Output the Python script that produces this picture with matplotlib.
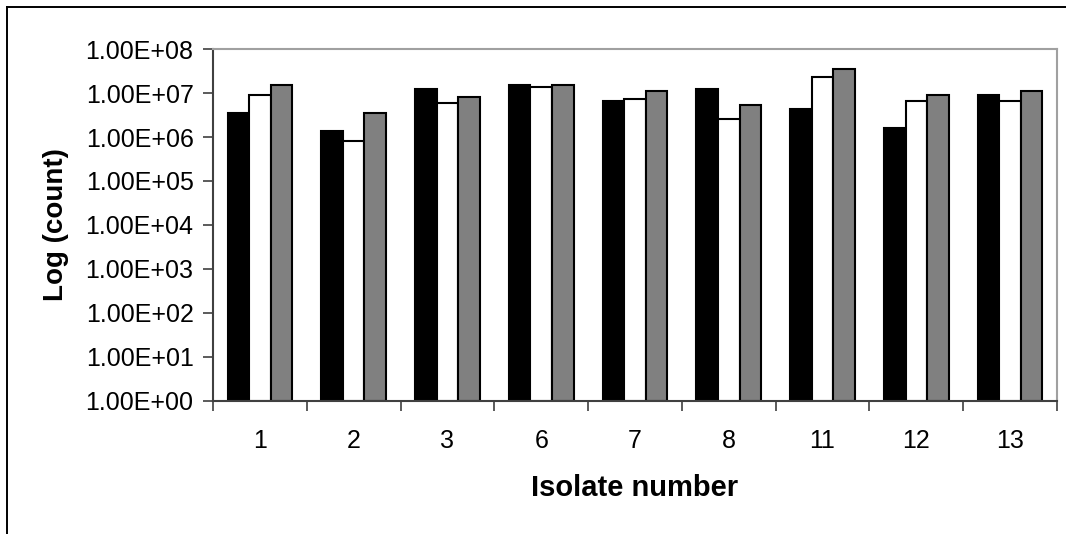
import matplotlib
matplotlib.use("Agg")
import matplotlib.pyplot as plt
import numpy as np
from matplotlib.lines import Line2D
from matplotlib.ticker import FixedLocator, FuncFormatter

plt.rcParams['font.family'] = ['Liberation Sans', 'DejaVu Sans']

# data
isolates = ['1', '2', '3', '6', '7', '8', '11', '12', '13']
black_counts = [3.6e6, 1.4e6, 1.25e7, 1.55e7, 6.7e6, 1.25e7, 4.4e6, 1.6e6, 9.2e6]
white_counts = [9.0e6, 8.1e5, 6.0e6, 1.37e7, 7.3e6, 2.6e6, 2.3e7, 6.6e6, 6.6e6]
gray_counts = [1.5e7, 3.5e6, 8.1e6, 1.5e7, 1.1e7, 5.3e6, 3.5e7, 9.2e6, 1.1e7]
y_ticks = [1e0, 1e1, 1e2, 1e3, 1e4, 1e5, 1e6, 1e7, 1e8]

fig = plt.figure(figsize=(10.66, 5.34), dpi=100)
ax = fig.add_axes([213 / 1066, 133 / 534, 844 / 1066, 352 / 534])

x = np.arange(len(isolates))
w = 0.23
ax.bar(x - w, black_counts, w, bottom=1, color='black', edgecolor='black', linewidth=1.5)
ax.bar(x, white_counts, w, bottom=1, color='white', edgecolor='black', linewidth=1.5)
ax.bar(x + w, gray_counts, w, bottom=1, color='#808080', edgecolor='black', linewidth=1.5)

ax.set_yscale('log')
ax.set_ylim(1, 1e8)
ax.set_xlim(-0.5, len(isolates) - 0.5)

ax.yaxis.set_major_locator(FixedLocator(y_ticks))
ax.yaxis.set_minor_locator(FixedLocator([]))
ax.yaxis.set_major_formatter(FuncFormatter(lambda v, p: f"{v:.2E}"))
ax.tick_params(axis='y', which='major', length=7, width=1.2, pad=7, labelsize=18, color='#404040')

ax.set_xticks(x)
ax.set_xticklabels(isolates)
ax.set_xticks(np.arange(len(isolates) + 1) - 0.5, minor=True)
ax.tick_params(axis='x', which='major', length=0, pad=20, labelsize=18)
ax.tick_params(axis='x', which='minor', length=7, width=1.2, color='#404040')

for s in ['left', 'bottom']:
    ax.spines[s].set_color('#404040')
    ax.spines[s].set_linewidth(1.5)
for s in ['top', 'right']:
    ax.spines[s].set_color('#a0a0a0')
    ax.spines[s].set_linewidth(1.5)

ax.set_xlabel('Isolate number', fontsize=21, fontweight='bold', labelpad=15)
ax.set_ylabel('Log (count)', fontsize=20, fontweight='bold', labelpad=12)

# outer chart border (only top and left visible in the crop)
fig.add_artist(Line2D([7 / 1066, 1], [1 - 7 / 534, 1 - 7 / 534], color='black', lw=1.4))
fig.add_artist(Line2D([7 / 1066, 7 / 1066], [0, 1 - 7 / 534], color='black', lw=1.4))

fig.savefig('out.png', dpi=100)
